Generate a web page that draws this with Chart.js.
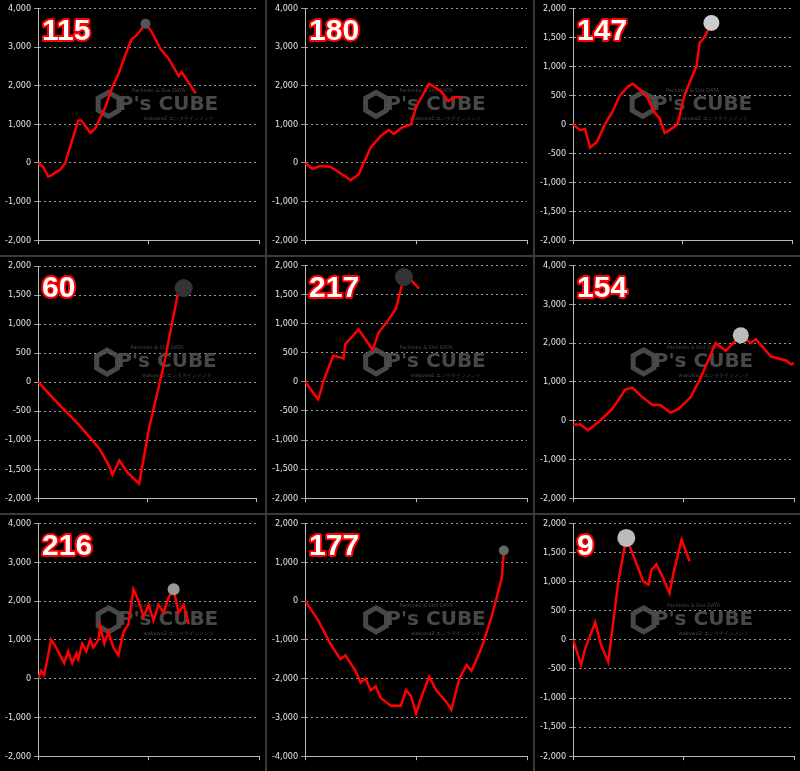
<!DOCTYPE html>
<html>
<head>
<meta charset="utf-8">
<script src="https://cdn.jsdelivr.net/npm/chart.js@4.4.1/dist/chart.umd.min.js"></script>
<style>
  html, body { margin: 0; padding: 0; background: #3a3a3a; }
  #grid { display: grid; grid-template-columns: 265px 266px 265px; grid-template-rows: 255px 256px 256px; gap: 2px; width: 800px; height: 771px; }
  .cell { position: relative; background: #000; }
  canvas { display: block; }
</style>
</head>
<body>
<div id="grid"></div>
<script>
// machine numbers shown in each panel
const titles = ['115', '180', '147', '60', '217', '154', '216', '177', '9'];

// y-axis ranges [min, max, step]
const yRanges = [
  [-2000, 4000, 1000], [-2000, 4000, 1000], [-2000, 2000, 500],
  [-2000, 2000, 500], [-2000, 2000, 500], [-2000, 4000, 1000],
  [-2000, 4000, 1000], [-4000, 2000, 1000], [-2000, 2000, 500],
];

// game progress (x) and balance (y) for each panel
const xs115 = [0, 5, 10, 13, 17, 22, 27, 40, 43, 52, 57, 67, 73, 80, 87, 93, 98, 107, 113, 122, 130, 140, 143, 157];
const ys115 = [0, -100, -350, -330, -250, -180, 0, 1100, 1100, 780, 900, 1450, 1900, 2300, 2800, 3200, 3300, 3600, 3400, 2950, 2700, 2250, 2350, 1800];

const xs180 = [0, 7, 15, 25, 40, 45, 53, 65, 75, 83, 88, 95, 105, 110, 123, 135, 142, 147, 155];
const ys180 = [0, -150, -80, -100, -350, -450, -300, 400, 700, 850, 750, 900, 1000, 1450, 2050, 1850, 1600, 1700, 1700];

const xs147 = [0, 7, 12, 17, 24, 32, 39, 47, 55, 60, 67, 75, 82, 87, 92, 97, 105, 112, 119, 124, 127, 132, 139];
const ys147 = [0, -100, -80, -400, -300, 0, 200, 500, 650, 700, 600, 450, 200, 100, -150, -100, 0, 500, 800, 1000, 1400, 1500, 1750];

const xs60 = [0, 22, 42, 62, 72, 75, 82, 90, 102, 112, 127, 142, 147];
const ys60 = [0, -400, -750, -1150, -1450, -1600, -1350, -1550, -1750, -800, 300, 1600, 1620];

const xs217 = [0, 13, 20, 28, 38, 40, 53, 61, 67, 73, 80, 90, 98, 105, 113];
const ys217 = [0, -300, 100, 450, 400, 650, 900, 700, 550, 850, 1000, 1250, 1800, 1750, 1600];

const xs154 = [0, 7, 15, 27, 39, 52, 59, 67, 79, 87, 97, 105, 117, 127, 142, 152, 167, 177, 182, 197, 212, 217, 222];
const ys154 = [-100, -100, -250, 0, 300, 800, 850, 650, 400, 400, 200, 300, 600, 1100, 2000, 1800, 2200, 2000, 2100, 1650, 1550, 1450, 1500];

const xs216 = [0, 3, 6, 10, 13, 18, 22, 26, 30, 34, 38, 40, 44, 48, 52, 55, 60, 62, 66, 70, 75, 80, 85, 90, 95, 100, 105, 110, 115, 120, 125, 130, 135, 140, 145, 150];
const ys216 = [0, 200, 100, 600, 1000, 800, 600, 400, 700, 400, 650, 500, 900, 700, 1000, 800, 1000, 1350, 900, 1200, 800, 600, 1200, 1400, 2300, 2000, 1600, 1900, 1500, 1900, 1700, 2100, 2300, 1700, 1900, 1400];

const xs177 = [0, 13, 25, 35, 40, 50, 55, 60, 65, 70, 75, 80, 85, 90, 95, 100, 105, 110, 115, 123, 130, 140, 145, 153, 160, 165, 175, 185, 195, 197];
const ys177 = [0, -500, -1100, -1500, -1400, -1800, -2100, -2000, -2300, -2200, -2500, -2600, -2700, -2700, -2700, -2300, -2450, -2900, -2500, -1950, -2300, -2600, -2800, -2000, -1650, -1800, -1200, -400, 600, 1300];

const xs9 = [0, 8, 12, 22, 28, 35, 45, 53, 60, 70, 75, 78, 83, 90, 96, 100, 108, 116];
const ys9 = [0, -430, -150, 300, -100, -380, 1000, 1750, 1450, 1000, 950, 1200, 1300, 1050, 800, 1150, 1720, 1350];

const xSets = [xs115, xs180, xs147, xs60, xs217, xs154, xs216, xs177, xs9];
const ySets = [ys115, ys180, ys147, ys60, ys217, ys154, ys216, ys177, ys9];

// index of the highlighted (max) point, and its look
const dotIndex = [17, 14, 22, 12, 12, 16, 32, 29, 7];
const dotColor = ['#555', '#000', '#ccc', '#333', '#333', '#bbb', '#999', '#666', '#bbb'];
const dotSize = [5, 0, 8, 9, 9, 8, 6, 5, 9];

const overlay = {
  id: 'overlay',
  beforeDatasetsDraw(chart) {
    const { ctx, chartArea } = chart;
    const cx = (chartArea.left + chartArea.right) / 2 + 5;
    const cy = (chartArea.top + chartArea.bottom) / 2 - 20;
    ctx.save();
    ctx.fillStyle = 'rgba(85,85,85,0.85)';
    ctx.font = 'bold 20px "DejaVu Sans"';
    ctx.textAlign = 'center';
    ctx.textBaseline = 'middle';
    ctx.fillText("P's CUBE", cx + 15, cy);
    ctx.font = '5px "DejaVu Sans"';
    ctx.fillText('Pachinko & Slot DATA', cx + 5, cy - 14);
    ctx.fillText('wakuwa2 エンタテインメント', cx + 25, cy + 14);
    ctx.lineWidth = 5;
    ctx.strokeStyle = 'rgba(85,85,85,0.85)';
    ctx.beginPath();
    for (let i = 0; i < 6; i++) {
      const a = Math.PI / 3 * i + Math.PI / 6;
      const px = cx - 45 + 12 * Math.cos(a);
      const py = cy + 12 * Math.sin(a);
      if (i === 0) ctx.moveTo(px, py); else ctx.lineTo(px, py);
    }
    ctx.closePath();
    ctx.stroke();
    ctx.restore();
  },
  afterDraw(chart) {
    const ctx = chart.ctx;
    ctx.save();
    ctx.font = 'bold 30px "Liberation Sans"';
    ctx.textBaseline = 'alphabetic';
    ctx.lineJoin = 'round';
    ctx.lineWidth = 4;
    ctx.strokeStyle = '#ff0000';
    ctx.strokeText(chart.options.plugins.title.text, chart.chartArea.left + 4, 40);
    ctx.fillStyle = '#ffffff';
    ctx.fillText(chart.options.plugins.title.text, chart.chartArea.left + 4, 40);
    ctx.restore();
  },
};

const grid = document.getElementById('grid');
Chart.defaults.font.family = '"DejaVu Sans Condensed", "DejaVu Sans"';
Chart.defaults.font.size = 9;
Chart.defaults.color = '#dde4f0';

for (let i = 0; i < 9; i++) {
  const cell = document.createElement('div');
  cell.className = 'cell';
  const canvas = document.createElement('canvas');
  cell.appendChild(canvas);
  grid.appendChild(cell);

  const points = xSets[i].map((x, k) => ({ x: x, y: ySets[i][k] }));
  const radii = points.map((p, k) => (k === dotIndex[i] ? dotSize[i] : 0));

  new Chart(canvas, {
    type: 'line',
    data: {
      datasets: [{
        data: points,
        borderColor: '#ff0000',
        borderWidth: 2.5,
        tension: 0,
        pointRadius: radii,
        pointBackgroundColor: dotColor[i],
        pointBorderWidth: 0,
      }],
    },
    options: {
      responsive: true,
      maintainAspectRatio: false,
      animation: false,
      layout: { padding: { top: 8, right: 6, left: 2, bottom: 0 } },
      plugins: {
        legend: { display: false },
        tooltip: { enabled: false },
        title: { display: false, text: titles[i] },
      },
      scales: {
        x: {
          type: 'linear',
          min: 0,
          max: 220,
          ticks: { stepSize: 110, callback: () => '', padding: 0 },
          grid: { drawOnChartArea: false, color: '#bbb', tickLength: 4 },
          border: { color: '#bbb', width: 1 },
        },
        y: {
          min: yRanges[i][0],
          max: yRanges[i][1],
          ticks: {
            stepSize: yRanges[i][2],
            callback: (v) => v.toLocaleString('en-US'),
          },
          grid: { color: '#999', tickLength: 4, lineWidth: 1 },
          border: { color: '#bbb', dash: [2, 3], width: 1 },
        },
      },
    },
    plugins: [overlay],
  });
}
</script>
</body>
</html>
